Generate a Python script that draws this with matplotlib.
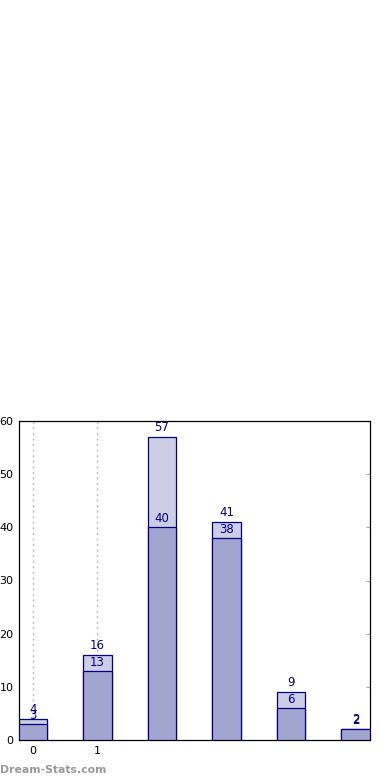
import matplotlib
matplotlib.use("Agg")
import matplotlib.pyplot as plt

positions = [0, 1, 2, 3, 4, 5]
totals = [4, 16, 57, 41, 9, 2]
inner = [3, 13, 40, 38, 6, 2]
xtick_vals = [0, 1]
xtick_labels = ["0", "1"]
yticks = [0, 10, 20, 30, 40, 50, 60]

fig = plt.figure(figsize=(3.9, 7.8), dpi=100)
ax = fig.add_axes([19/390, 40/780, 351/390, 319/780])

light = "#cdcde5"
dark = "#a3a5d1"
edge = "#000080"
w = 0.44

ax.bar(positions, totals, width=w, color=light, edgecolor=edge, linewidth=0.9, zorder=2)
ax.bar(positions, inner, width=w, color=dark, edgecolor=edge, linewidth=0.9, zorder=3)

for x, t, v in zip(positions, totals, inner):
    ax.text(x, t + 0.6, str(t), ha="center", va="bottom", fontsize=8.5, color=edge, zorder=4)
    ax.text(x, v + 0.4, str(v), ha="center", va="bottom", fontsize=8.5, color=edge, zorder=4)

for xv in xtick_vals:
    ax.axvline(xv, color="#bbbbbb", linestyle=(0, (1.5, 2.5)), linewidth=1, zorder=1)

ax.set_xlim(-0.217, 5.225)
ax.set_ylim(0, 60)
ax.set_xticks(xtick_vals)
ax.set_xticklabels(xtick_labels)
ax.set_yticks(yticks)
ax.tick_params(axis="both", labelsize=8, length=0, pad=4)
ax.tick_params(axis="y", right=True, length=3, direction="in", color="#aaaaaa")
ax.tick_params(axis="y", left=False)
for s in ax.spines.values():
    s.set_linewidth(0.9)

fig.text(0.0, 0.0065, "Dream-Stats.com", fontsize=7.8, color="#999999",
         fontweight="bold", ha="left", va="bottom")

fig.savefig("out.png", dpi=100)
